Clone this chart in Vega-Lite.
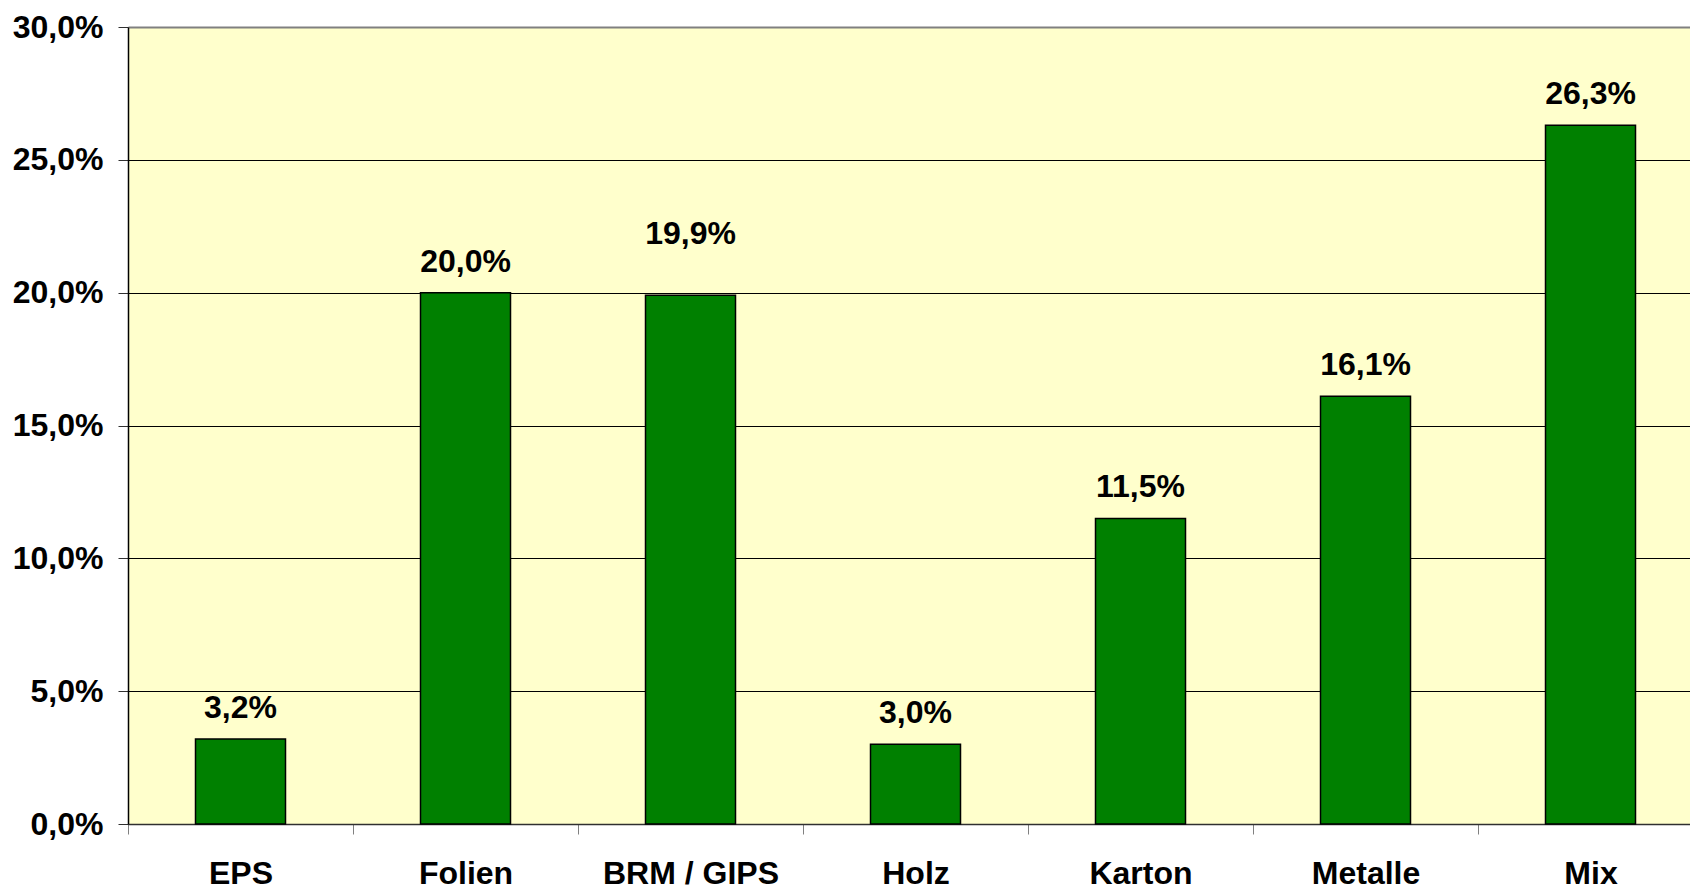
{
  "$schema": "https://vega.github.io/schema/vega-lite/v6.json",
  "autosize": {"type": "none"},
  "padding": {"left": 128, "top": 27, "right": 0, "bottom": 62},
  "width": 1562,
  "height": 797,
  "background": "white",
  "config": {
    "locale": {"number": {"decimal": ",", "thousands": ".", "grouping": [3], "currency": ["", " €"]}},
    "view": {"fill": "#FFFFCC", "stroke": null},
    "font": "Liberation Sans"
  },
  "data": {
    "values": [
      {"kategorie": "EPS", "anteil": 0.032},
      {"kategorie": "Folien", "anteil": 0.200},
      {"kategorie": "BRM / GIPS", "anteil": 0.199},
      {"kategorie": "Holz", "anteil": 0.030},
      {"kategorie": "Karton", "anteil": 0.115},
      {"kategorie": "Metalle", "anteil": 0.161},
      {"kategorie": "Mix", "anteil": 0.263}
    ]
  },
  "encoding": {
    "x": {
      "field": "kategorie",
      "type": "nominal",
      "sort": null,
      "scale": {"paddingInner": 0.6, "paddingOuter": 0.3, "range": [0, 1575]},
      "axis": {
        "title": null,
        "labelAngle": 0,
        "labelFont": "Liberation Sans",
        "labelFontWeight": "bold",
        "labelFontSize": 32,
        "labelColor": "black",
        "labelPadding": 24,
        "labelBaseline": "top",
        "tickOffset": -112.5,
        "labelOffset": 112.5,
        "tickSize": 10,
        "tickColor": "#808080",
        "domainColor": "#303030",
        "domainWidth": 1.5,
        "grid": false
      }
    },
    "y": {
      "field": "anteil",
      "type": "quantitative",
      "scale": {"domain": [0, 0.3], "nice": false},
      "axis": {
        "title": null,
        "values": [0, 0.05, 0.1, 0.15, 0.2, 0.25, 0.3],
        "format": ".1%",
        "labelFont": "Liberation Sans",
        "labelFontWeight": "bold",
        "labelFontSize": 32,
        "labelColor": "black",
        "labelPadding": 15,
        "tickSize": 10,
        "tickColor": "#303030",
        "domainColor": "black",
        "domainWidth": 1.5,
        "grid": true,
        "gridColor": {"condition": {"test": "datum.value >= 0.3", "value": "#808080"}, "value": "black"},
        "gridWidth": {"condition": {"test": "datum.value >= 0.3", "value": 2}, "value": 1},
        "gridOpacity": 1
      }
    }
  },
  "layer": [
    {
      "mark": {"type": "bar", "color": "#008000", "stroke": "black", "strokeWidth": 1.5}
    },
    {
      "transform": [{"filter": "datum.kategorie !== 'BRM / GIPS'"}],
      "mark": {"type": "text", "baseline": "alphabetic", "dy": -21, "fontSize": 32, "fontWeight": "bold", "font": "Liberation Sans", "color": "black"},
      "encoding": {
        "text": {"field": "anteil", "type": "quantitative", "format": ".1%"}
      }
    },
    {
      "transform": [{"filter": "datum.kategorie === 'BRM / GIPS'"}],
      "mark": {"type": "text", "baseline": "alphabetic", "dy": -51, "fontSize": 32, "fontWeight": "bold", "font": "Liberation Sans", "color": "black"},
      "encoding": {
        "text": {"field": "anteil", "type": "quantitative", "format": ".1%"}
      }
    }
  ]
}
